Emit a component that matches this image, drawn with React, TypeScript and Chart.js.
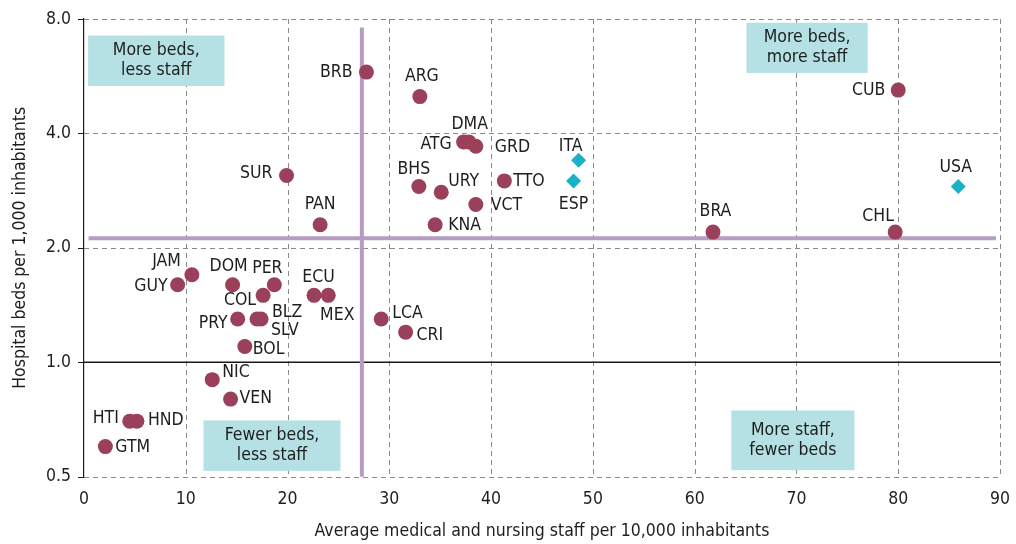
import React, { useEffect, useRef } from 'react';
import { Chart, registerables } from 'chart.js';

Chart.register(...registerables);

// ---------------- DATA ----------------
const countries = ['BRB', 'ARG', 'ATG', 'DMA', 'GRD', 'BHS', 'URY', 'VCT', 'TTO', 'KNA', 'PAN', 'SUR', 'CUB', 'BRA', 'CHL', 'JAM', 'GUY', 'DOM', 'PER', 'COL', 'ECU', 'MEX', 'PRY', 'BLZ', 'SLV', 'BOL', 'LCA', 'CRI', 'NIC', 'VEN', 'HTI', 'HND', 'GTM'];
const staff = [27.75, 33.0, 37.3, 37.8, 38.5, 32.9, 35.1, 38.5, 41.3, 34.5, 23.2, 19.9, 80.0, 61.8, 79.7, 10.6, 9.2, 14.6, 18.7, 17.6, 22.6, 24.0, 15.1, 17.0, 17.4, 15.8, 29.2, 31.6, 12.6, 14.4, 4.5, 5.2, 2.1];
const beds = [5.8, 5.0, 3.8, 3.8, 3.7, 2.9, 2.8, 2.6, 3.0, 2.3, 2.3, 3.1, 5.2, 2.2, 2.2, 1.7, 1.6, 1.6, 1.6, 1.5, 1.5, 1.5, 1.3, 1.3, 1.3, 1.1, 1.3, 1.2, 0.9, 0.8, 0.7, 0.7, 0.6];

const benchCountries = ['ITA', 'ESP', 'USA'];
const benchStaff = [48.6, 48.1, 85.9];
const benchBeds = [3.4, 3.0, 2.9];

const medianStaff = 27.3;
const medianBeds = 2.12;

const xTicks = [0, 10, 20, 30, 40, 50, 60, 70, 80, 90];
const yTicks = [0.5, 1, 2, 4, 8];

const xTitle = 'Average medical and nursing staff per 10,000 inhabitants';
const yTitle = 'Hospital beds per 1,000 inhabitants';

const quadrantTexts = [
  ['More beds,', 'less staff'],
  ['More beds,', 'more staff'],
  ['Fewer beds,', 'less staff'],
  ['More staff,', 'fewer beds'],
];

// ---------------- LAYOUT / STYLE ----------------
// label placement per country: [dx, dy, align]
const labelPlacement: [number, number, CanvasTextAlign][] = [
  [-14, 0, 'right'],   // BRB
  [2, -20, 'center'],  // ARG
  [-12, 3, 'right'],   // ATG
  [1, -17, 'center'],  // DMA
  [19, 1, 'left'],     // GRD
  [-5, -17, 'center'], // BHS
  [7, -11, 'left'],    // URY
  [15, 1, 'left'],     // VCT
  [9, 1, 'left'],      // TTO
  [13, 1, 'left'],     // KNA
  [0, -20, 'center'],  // PAN
  [-14, -2, 'right'],  // SUR
  [-13, 0, 'right'],   // CUB
  [2.5, -21, 'center'],// BRA
  [-17, -16, 'center'],// CHL
  [-11, -13, 'right'], // JAM
  [-10, 2, 'right'],   // GUY
  [-4, -18, 'center'], // DOM
  [-7, -16, 'center'], // PER
  [-7, 5, 'right'],    // COL
  [4.5, -18, 'center'],// ECU
  [9, 20, 'center'],   // MEX
  [-10, 4, 'right'],   // PRY
  [15, -7, 'left'],    // BLZ
  [10, 11, 'left'],    // SLV
  [8, 3, 'left'],      // BOL
  [11, -6, 'left'],    // LCA
  [11, 3, 'left'],     // CRI
  [10, -7, 'left'],    // NIC
  [9, -1, 'left'],     // VEN
  [-11, -3, 'right'],  // HTI
  [11, -1, 'left'],    // HND
  [10, 1, 'left'],     // GTM
];
const benchPlacement: [number, number, CanvasTextAlign][] = [
  [-8, -14, 'center'], // ITA
  [0, 24, 'center'],   // ESP
  [-2.5, -19, 'center'], // USA
];

// quadrant boxes in data coordinates: [x0, x1, yTop, yBottom]
const quadrantBoxes: [number, number, number, number][] = [
  [0.4, 13.8, 7.24, 5.33],
  [65.1, 77.0, 7.82, 5.77],
  [11.74, 25.2, 0.703, 0.518],
  [63.6, 75.7, 0.747, 0.52],
];

const FONT = "'DejaVu Sans Condensed', 'DejaVu Sans', sans-serif";
const FS = 17.5;
const TEXT = '#1e1e1e';
const MAROON = '#9a405a';
const CYAN = '#18b2c8';
const MEDIAN = '#b49cc2';
const BOX = '#b5e1e4';
const GRID = '#8a8a8a';

const backgroundPlugin = {
  id: 'bgLayer',
  beforeDatasetsDraw(chart: any) {
    const { ctx, chartArea, scales } = chart;
    const xs = scales.x;
    const ys = scales.y;
    const { left, right, top, bottom } = chartArea;
    ctx.save();
    // dashed grid
    ctx.strokeStyle = GRID;
    ctx.lineWidth = 1;
    ctx.setLineDash([5, 4]);
    for (const v of xTicks) {
      if (v === 0) continue;
      const x = Math.round(xs.getPixelForValue(v)) + 0.5;
      ctx.beginPath();
      ctx.moveTo(x, top);
      ctx.lineTo(x, bottom);
      ctx.stroke();
    }
    for (const v of yTicks) {
      if (v === 1) continue;
      const y = Math.round(ys.getPixelForValue(v)) + 0.5;
      ctx.beginPath();
      ctx.moveTo(left, y);
      ctx.lineTo(right, y);
      ctx.stroke();
    }
    ctx.setLineDash([]);
    // solid line at 1.0
    ctx.strokeStyle = '#1a1a1a';
    ctx.lineWidth = 1.5;
    const y1 = ys.getPixelForValue(1);
    ctx.beginPath();
    ctx.moveTo(left, y1);
    ctx.lineTo(right, y1);
    ctx.stroke();
    // y axis tick marks
    ctx.lineWidth = 1;
    for (const v of yTicks) {
      const y = Math.round(ys.getPixelForValue(v)) + 0.5;
      ctx.beginPath();
      ctx.moveTo(left - 6, y);
      ctx.lineTo(left, y);
      ctx.stroke();
    }
    // median lines
    ctx.strokeStyle = MEDIAN;
    ctx.lineWidth = 4;
    const mx = xs.getPixelForValue(medianStaff);
    ctx.beginPath();
    ctx.moveTo(mx, ys.getPixelForValue(7.6));
    ctx.lineTo(mx, bottom);
    ctx.stroke();
    const my = ys.getPixelForValue(medianBeds);
    ctx.beginPath();
    ctx.moveTo(xs.getPixelForValue(0.45), my);
    ctx.lineTo(xs.getPixelForValue(89.6), my);
    ctx.stroke();
    // quadrant boxes
    ctx.font = `${FS}px ${FONT}`;
    ctx.textAlign = 'center';
    ctx.textBaseline = 'middle';
    quadrantBoxes.forEach((b, i) => {
      const x0 = xs.getPixelForValue(b[0]);
      const x1 = xs.getPixelForValue(b[1]);
      const yT = ys.getPixelForValue(b[2]);
      const yB = ys.getPixelForValue(b[3]);
      ctx.fillStyle = BOX;
      ctx.fillRect(x0, yT, x1 - x0, yB - yT);
      ctx.fillStyle = TEXT;
      const cx = (x0 + x1) / 2;
      const cy = (yT + yB) / 2;
      const lines = quadrantTexts[i];
      lines.forEach((t, j) => {
        ctx.fillText(t, cx, cy + (j - (lines.length - 1) / 2) * 20);
      });
    });
    ctx.restore();
  },
};

const labelPlugin = {
  id: 'pointLabels',
  afterDatasetsDraw(chart: any) {
    const { ctx } = chart;
    ctx.save();
    ctx.font = `${FS}px ${FONT}`;
    ctx.fillStyle = TEXT;
    ctx.textBaseline = 'middle';
    const draw = (dsIndex: number, names: string[], place: [number, number, CanvasTextAlign][]) => {
      const meta = chart.getDatasetMeta(dsIndex);
      meta.data.forEach((el: any, i: number) => {
        const [dx, dy, align] = place[i];
        ctx.textAlign = align;
        ctx.fillText(names[i], el.x + dx, el.y + dy);
      });
    };
    draw(0, countries, labelPlacement);
    draw(1, benchCountries, benchPlacement);
    ctx.restore();
  },
};

export default function App() {
  const ref = useRef<HTMLCanvasElement>(null);
  useEffect(() => {
    const canvas = ref.current;
    if (!canvas) return;
    const tickFont = { family: FONT, size: FS };
    const chart = new Chart(canvas, {
      type: 'scatter',
      data: {
        datasets: [
          {
            label: 'Latin America and Caribbean',
            data: countries.map((_, i) => ({ x: staff[i], y: beds[i] })),
            backgroundColor: MAROON,
            borderWidth: 0,
            pointRadius: 7.5,
            pointHoverRadius: 7.5,
            pointStyle: 'circle',
          },
          {
            label: 'Benchmark',
            data: benchCountries.map((_, i) => ({ x: benchStaff[i], y: benchBeds[i] })),
            backgroundColor: CYAN,
            borderWidth: 0,
            pointRadius: 7.5,
            pointHoverRadius: 7.5,
            pointStyle: 'rectRot',
          },
        ],
      },
      options: {
        animation: false,
        responsive: true,
        maintainAspectRatio: false,
        layout: { padding: { top: 19, right: 16, left: 0, bottom: 0 } },
        plugins: { legend: { display: false }, tooltip: { enabled: false } },
        scales: {
          x: {
            type: 'linear',
            min: 0,
            max: 90,
            afterBuildTicks: (s: any) => {
              s.ticks = xTicks.map((v) => ({ value: v }));
            },
            afterFit: (s: any) => {
              s.height = 67.3;
            },
            grid: { display: false, drawTicks: true, tickLength: 12 },
            border: { display: false },
            ticks: { font: tickFont, color: TEXT, padding: 0, maxRotation: 0, autoSkip: false },
            title: { display: true, text: xTitle, font: { family: FONT, size: FS }, color: TEXT, padding: { top: 0, bottom: 2 } },
          },
          y: {
            type: 'logarithmic',
            min: 0.5,
            max: 8,
            afterBuildTicks: (s: any) => {
              s.ticks = yTicks.map((v) => ({ value: v }));
            },
            afterFit: (s: any) => {
              s.width = 84;
            },
            grid: { display: false, drawTicks: true, tickLength: 13 },
            border: { display: true, color: '#1a1a1a', width: 1.2 },
            ticks: {
              font: tickFont,
              color: TEXT,
              padding: 0,
              autoSkip: false,
              callback: (v: any) => Number(v).toFixed(1),
            },
            title: { display: true, text: yTitle, font: { family: FONT, size: FS }, color: TEXT, padding: { top: 10, bottom: 0 } },
          },
        },
      },
      plugins: [backgroundPlugin, labelPlugin],
    } as any);
    return () => chart.destroy();
  }, []);
  return (
    <div style={{ position: 'fixed', left: 0, top: 0, width: 1016, height: 544, background: '#fff' }}>
      <canvas ref={ref} />
    </div>
  );
}
